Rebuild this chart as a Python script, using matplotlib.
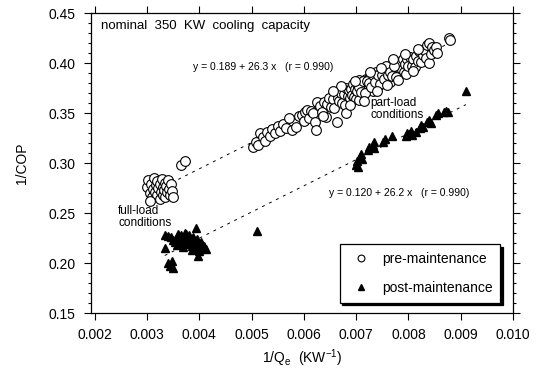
"""1/COP vs 1/Qe for a 350 KW chiller, pre- and post-maintenance, with linear fits."""
import numpy as np
import matplotlib.pyplot as plt
from matplotlib.ticker import MultipleLocator

plt.rcParams["font.family"] = ["Liberation Sans", "DejaVu Sans"]
plt.rcParams["mathtext.default"] = "regular"

# pre-maintenance, full-load cluster + part-load band
pre_x = [
    0.00300, 0.00302, 0.00305, 0.00308, 0.00310, 0.00312, 0.00314, 0.00316, 0.00318, 0.00320,
    0.00320, 0.00322, 0.00324, 0.00325, 0.00326, 0.00328, 0.00330, 0.00331, 0.00332, 0.00334,
    0.00335, 0.00336, 0.00338, 0.00340, 0.00342, 0.00344, 0.00345, 0.00348, 0.00306, 0.00350,
    0.00366, 0.00372,
    0.00502, 0.00508, 0.00512, 0.00516, 0.00522, 0.00526, 0.00530, 0.00535, 0.00540, 0.00545,
    0.00550, 0.00555, 0.00560, 0.00565, 0.00572, 0.00578, 0.00585, 0.00590, 0.00596, 0.00600,
    0.00603, 0.00607, 0.00610, 0.00614, 0.00618, 0.00622, 0.00624, 0.00626, 0.00630, 0.00634,
    0.00638, 0.00642, 0.00645, 0.00648, 0.00652, 0.00655, 0.00658, 0.00661, 0.00664, 0.00665,
    0.00668, 0.00671, 0.00673, 0.00676, 0.00678, 0.00680, 0.00681, 0.00684, 0.00686, 0.00689,
    0.00690, 0.00692, 0.00694, 0.00696, 0.00698, 0.00700, 0.00702, 0.00704, 0.00706, 0.00708,
    0.00710, 0.00712, 0.00714, 0.00716, 0.00718, 0.00720, 0.00722, 0.00724, 0.00726, 0.00728,
    0.00730, 0.00732, 0.00734, 0.00736, 0.00738, 0.00740, 0.00742, 0.00744, 0.00746, 0.00748,
    0.00750, 0.00752, 0.00754, 0.00756, 0.00758, 0.00760, 0.00762, 0.00764, 0.00766, 0.00768,
    0.00770, 0.00772, 0.00774, 0.00776, 0.00778, 0.00780, 0.00782, 0.00784, 0.00786, 0.00788,
    0.00790, 0.00792, 0.00794, 0.00796, 0.00798, 0.00800, 0.00706,
    0.00701, 0.00705, 0.00709, 0.00713, 0.00717, 0.00721, 0.00725, 0.00729, 0.00733, 0.00737,
    0.00741, 0.00745, 0.00749, 0.00753, 0.00757, 0.00761, 0.00765, 0.00769, 0.00773, 0.00777,
    0.00803, 0.00806, 0.00809, 0.00812, 0.00815, 0.00818, 0.00821, 0.00824, 0.00827, 0.00830,
    0.00833, 0.00836, 0.00839, 0.00840, 0.00843, 0.00846, 0.00849, 0.00852, 0.00855, 0.00877,
    0.00879,
    0.00672, 0.00688, 0.00697, 0.00715, 0.00727, 0.00739, 0.00747, 0.00759, 0.00771, 0.00781,
    0.00793, 0.00808, 0.00819, 0.00637, 0.00655,
]
pre_y = [
    0.276, 0.283, 0.270, 0.279, 0.266, 0.274, 0.285, 0.271, 0.278, 0.268,
    0.282, 0.275, 0.264, 0.279, 0.271, 0.284, 0.276, 0.268, 0.273, 0.280,
    0.266, 0.277, 0.271, 0.283, 0.274, 0.268, 0.279, 0.272, 0.262, 0.266,
    0.298, 0.302,
    0.316, 0.321, 0.318, 0.330, 0.326, 0.322, 0.331, 0.327, 0.334, 0.330,
    0.337, 0.332, 0.339, 0.335, 0.345, 0.333, 0.336, 0.347, 0.348, 0.342,
    0.351, 0.353, 0.345, 0.352, 0.350, 0.341, 0.333, 0.361, 0.357, 0.351,
    0.361, 0.346, 0.359, 0.365, 0.356, 0.364, 0.355, 0.371, 0.341, 0.365,
    0.362, 0.370, 0.360, 0.369, 0.358, 0.375, 0.350, 0.367, 0.373, 0.365,
    0.374, 0.368, 0.379, 0.366, 0.374, 0.364, 0.379, 0.372, 0.383, 0.371,
    0.376, 0.369, 0.380, 0.372, 0.384, 0.377, 0.383, 0.376, 0.387, 0.374,
    0.382, 0.372, 0.387, 0.381, 0.391, 0.380, 0.384, 0.378, 0.388, 0.381,
    0.392, 0.386, 0.391, 0.385, 0.395, 0.383, 0.390, 0.381, 0.395, 0.389,
    0.400, 0.388, 0.393, 0.386, 0.397, 0.389, 0.401, 0.394, 0.400, 0.393,
    0.404, 0.391, 0.399, 0.389, 0.404, 0.397, 0.363,
    0.372, 0.376, 0.371, 0.382, 0.370, 0.382, 0.380, 0.376, 0.388, 0.381,
    0.388, 0.379, 0.388, 0.384, 0.397, 0.388, 0.391, 0.387, 0.397, 0.386,
    0.406, 0.397, 0.404, 0.396, 0.407, 0.402, 0.412, 0.401, 0.408, 0.413,
    0.405, 0.418, 0.400, 0.420, 0.409, 0.416, 0.413, 0.416, 0.410, 0.425,
    0.423,
    0.377, 0.358, 0.382, 0.362, 0.391, 0.372, 0.395, 0.378, 0.404, 0.383,
    0.409, 0.392, 0.414, 0.347, 0.372,
]

# post-maintenance
post_x = [
    0.00335, 0.00340, 0.00346, 0.00350, 0.00354, 0.00357, 0.00360, 0.00362, 0.00364, 0.00366,
    0.00368, 0.00370, 0.00372, 0.00374, 0.00376, 0.00378, 0.00380, 0.00382, 0.00384, 0.00386,
    0.00388, 0.00390, 0.00392, 0.00394, 0.00396, 0.00398, 0.00400, 0.00402, 0.00404, 0.00406,
    0.00408, 0.00410, 0.00412, 0.00358, 0.00369, 0.00375, 0.00387,
    0.00334, 0.00393, 0.00399, 0.00397, 0.00340, 0.00344, 0.00347, 0.00349, 0.00510,
    0.00700, 0.00702, 0.00704, 0.00708, 0.00710, 0.00712, 0.00722, 0.00724, 0.00732, 0.00734,
    0.00735, 0.00752, 0.00755, 0.00768, 0.00795, 0.00798, 0.00801, 0.00804, 0.00806, 0.00814,
    0.00822, 0.00825, 0.00828, 0.00835, 0.00840, 0.00844, 0.00853, 0.00856, 0.00868, 0.00872,
    0.00876, 0.00911,
]
post_y = [
    0.228, 0.227, 0.226, 0.223, 0.221, 0.226, 0.229, 0.224, 0.220, 0.228,
    0.225, 0.221, 0.230, 0.226, 0.223, 0.219, 0.228, 0.224, 0.221, 0.217,
    0.226, 0.222, 0.219, 0.216, 0.224, 0.220, 0.217, 0.214, 0.221, 0.218,
    0.215, 0.217, 0.214, 0.218, 0.216, 0.229, 0.213,
    0.215, 0.235, 0.212, 0.207, 0.200, 0.197, 0.202, 0.195, 0.232,
    0.298, 0.302, 0.296, 0.306, 0.309, 0.304, 0.313, 0.316, 0.318, 0.321,
    0.315, 0.321, 0.324, 0.327, 0.327, 0.330, 0.329, 0.332, 0.328, 0.331,
    0.335, 0.338, 0.336, 0.341, 0.343, 0.340, 0.348, 0.350, 0.351, 0.352,
    0.351, 0.372,
]

# regression lines y = a + b x over their fitted range
pre_fit = (0.189, 26.3, 0.0032, 0.0088)
post_fit = (0.120, 26.2, 0.00334, 0.0091)

fig = plt.figure(figsize=(5.37, 3.70), dpi=100)
ax = fig.add_axes([0.1695, 0.154, 0.7858, 0.8108])

ax.plot(pre_x, pre_y, "o", mfc="white", mec="black", mew=0.8, ms=7,
        linestyle="none", label="pre-maintenance")
ax.plot(post_x, post_y, "^", color="black", ms=6, linestyle="none",
        label="post-maintenance")

for a, b, x0, x1 in (pre_fit, post_fit):
    xs = np.array([x0, x1])
    ax.plot(xs, a + b * xs, color="black", linewidth=0.7, linestyle=(0, (3, 5)), zorder=0)

ax.set_xlim(0.00193, 0.0100)
ax.set_ylim(0.15, 0.45)
ax.xaxis.set_major_locator(MultipleLocator(0.001))
ax.yaxis.set_major_locator(MultipleLocator(0.05))
ax.yaxis.set_minor_locator(MultipleLocator(0.01))
ax.xaxis.set_major_formatter(plt.FuncFormatter(lambda v, _: f"{v:.3f}"))
ax.yaxis.set_major_formatter(plt.FuncFormatter(lambda v, _: f"{v:.2f}"))
ax.tick_params(which="both", direction="out", top=True, right=True,
               labeltop=False, labelright=False, labelsize=10, width=0.8)
ax.tick_params(which="major", length=5, pad=6)
ax.tick_params(which="minor", length=2.5)
for s in ax.spines.values():
    s.set_linewidth(0.9)

ax.set_xlabel("1/Q$_e$  (KW$^{-1}$)", fontsize=10, labelpad=4)
ax.set_ylabel("1/COP", fontsize=10, labelpad=14)

ax.text(0.00213, 0.437, "nominal  350  KW  cooling  capacity", fontsize=9.5, va="center")
ax.text(0.00388, 0.396, "y = 0.189 + 26.3 x   (r = 0.990)", fontsize=7.5, va="center")
ax.text(0.00728, 0.354, "part-load\nconditions", fontsize=8.5, va="center", linespacing=1.0)
ax.text(0.00648, 0.270, "y = 0.120 + 26.2 x   (r = 0.990)", fontsize=7.5, va="center")
ax.text(0.00245, 0.246, "full-load\nconditions", fontsize=8.5, va="center", linespacing=1.0)

leg = ax.legend(loc="lower right", bbox_to_anchor=(0.97, 0.035), borderaxespad=0,
                fontsize=10, fancybox=False, edgecolor="black", framealpha=1,
                markerscale=0.7, handlelength=2.0, handletextpad=0.5,
                labelspacing=1.1, borderpad=0.55,
                shadow={"color": "black", "alpha": 1, "ox": 2, "oy": -2})
leg.get_frame().set_linewidth(0.9)

fig.savefig("out.png", dpi=100)
